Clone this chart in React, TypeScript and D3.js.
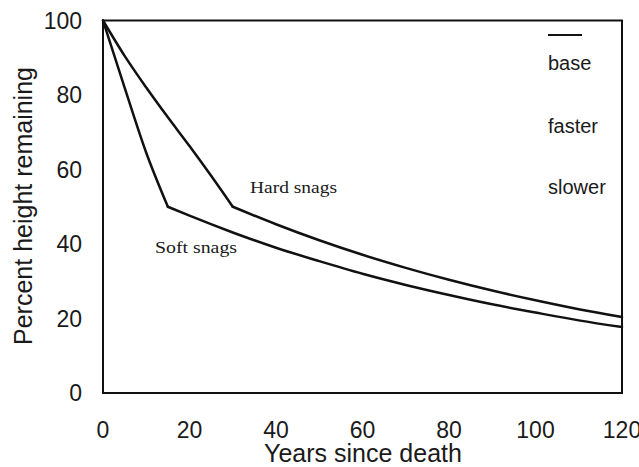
import React from "react";
import * as d3 from "d3";

const hardYears = [0, 5, 10, 15, 20, 25, 30, 40, 50, 60, 70, 80, 90, 100, 110, 120];
const hardValues = [100, 90.5, 82, 74, 66.3, 58.3, 50, 45.3, 41.0, 37.1, 33.6, 30.4, 27.5, 24.9, 22.5, 20.4];
const hardBreakYear = 30;
const softYears = [0, 5, 10, 15, 20, 30, 40, 50, 60, 70, 80, 90, 100, 110, 120];
const softValues = [100, 82, 64.5, 50, 47.6, 43.1, 39.0, 35.4, 32.0, 29.0, 26.3, 23.8, 21.6, 19.5, 17.7];
const softBreakYear = 15;
const xTicks = [0, 20, 40, 60, 80, 100, 120];
const yTicks = [0, 20, 40, 60, 80, 100];
const legendLabels = ["base", "faster", "slower"];

const W = 639;
const H = 467;
const M = { left: 103, right: 17, top: 20.5, bottom: 74 };

export default function App() {
  const x = d3.scaleLinear().domain([0, 120]).range([M.left, W - M.right]);
  const y = d3.scaleLinear().domain([0, 100]).range([H - M.bottom, M.top]);
  const line = d3
    .line<[number, number]>()
    .x((d) => x(d[0]))
    .y((d) => y(d[1]))
    .curve(d3.curveMonotoneX);
  const hard = hardYears.map((t, i) => [t, hardValues[i]] as [number, number]);
  const soft = softYears.map((t, i) => [t, softValues[i]] as [number, number]);
  const pieces = (pts: [number, number][], b: number) => [
    pts.filter((p) => p[0] <= b),
    pts.filter((p) => p[0] >= b),
  ];
  const segs = [...pieces(hard, hardBreakYear), ...pieces(soft, softBreakYear)];
  const sans = "'Liberation Sans', Arial, sans-serif";
  const serif = "'Liberation Serif', 'Times New Roman', serif";
  return (
    <svg
      width={W}
      height={H}
      style={{ position: "absolute", left: 0, top: 0, background: "#fff" }}
    >
      <rect x={0} y={0} width={W} height={H} fill="#fff" />
      <rect
        x={x(0)}
        y={y(100)}
        width={x(120) - x(0)}
        height={y(0) - y(100)}
        fill="none"
        stroke="#111"
        strokeWidth={2}
      />
      {segs.map((s, i) => (
        <path key={i} d={line(s) || ""} fill="none" stroke="#111" strokeWidth={2.5} strokeLinejoin="round" strokeLinecap="round" />
      ))}
      {yTicks.map((v) => (
        <text key={v} x={82} y={y(v)} dy="0.36em" textAnchor="end" fontFamily={sans} fontSize={23} fill="#1a1a1a">
          {v}
        </text>
      ))}
      {xTicks.map((v) => (
        <text key={v} x={x(v)} y={438} textAnchor="middle" fontFamily={sans} fontSize={23} fill="#1a1a1a">
          {v}
        </text>
      ))}
      <text x={363} y={462} textAnchor="middle" fontFamily={sans} fontSize={25} fill="#1a1a1a">
        Years since death
      </text>
      <text
        transform="translate(32,206) rotate(-90)"
        textAnchor="middle"
        fontFamily={sans}
        fontSize={25}
        fill="#1a1a1a"
      >
        Percent height remaining
      </text>
      <text x={250} y={193} fontFamily={serif} fontSize={17} textLength={87} lengthAdjust="spacingAndGlyphs" fill="#1a1a1a">
        Hard snags
      </text>
      <text x={155} y={253} fontFamily={serif} fontSize={17} textLength={82} lengthAdjust="spacingAndGlyphs" fill="#1a1a1a">
        Soft snags
      </text>
      <line x1={548} x2={582} y1={35} y2={35} stroke="#111" strokeWidth={2} />
      {legendLabels.map((l, i) => (
        <text key={l} x={548} y={[70, 133, 194][i]} fontFamily={sans} fontSize={20} fill="#1a1a1a">
          {l}
        </text>
      ))}
    </svg>
  );
}
